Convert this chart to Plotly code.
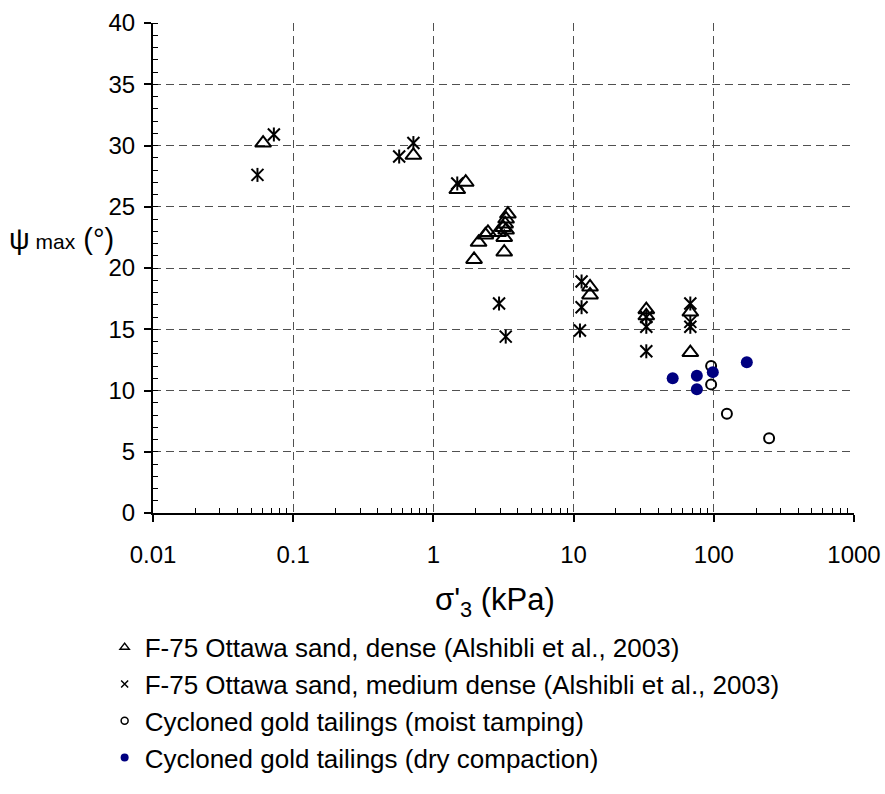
import plotly.graph_objects as go

# Maximum dilation angle vs. effective confining stress
dense_s3 = [0.061, 0.72, 1.48, 1.70, 3.40, 3.30, 3.25, 3.15, 3.30, 2.90, 2.45, 2.35,
            3.20, 2.10, 3.20, 1.95, 13.1, 13.1, 33.0, 33.0, 68.0, 68.0]
dense_psi = [30.2, 29.2, 26.4, 27.0, 24.4, 24.0, 23.6, 23.3, 23.1, 22.9, 22.9, 22.7,
             22.5, 22.1, 21.3, 20.7, 18.45, 17.8, 16.6, 16.1, 16.4, 13.1]

med_s3 = [0.0556, 0.0728, 0.57, 0.72, 1.48, 2.94, 3.28, 11.4, 11.4, 11.1,
          33.0, 33.0, 33.0, 68.0, 68.0, 68.0]
med_psi = [27.6, 30.9, 29.1, 30.2, 26.9, 17.1, 14.4, 18.9, 16.8, 14.9,
           16.0, 15.2, 13.2, 17.1, 15.6, 15.2]

moist_s3 = [95.7, 95.7, 124.0, 248.0]
moist_psi = [12.0, 10.5, 8.1, 6.1]

dry_s3 = [50.9, 75.7, 75.7, 98.4, 172.0]
dry_psi = [11.0, 11.2, 10.1, 11.5, 12.3]

x_tickvals = [0.01, 0.1, 1, 10, 100, 1000]
x_ticktext = ["0.01", "0.1", "1", "10", "100", "1000"]

names = [
    "F-75 Ottawa sand, dense (Alshibli et al., 2003)",
    "F-75 Ottawa sand, medium dense (Alshibli et al., 2003)",
    "Cycloned gold tailings (moist tamping)",
    "Cycloned gold tailings (dry compaction)",
]

FONT = "Arial, Liberation Sans, sans-serif"
NAVY = "#000080"

fig = go.Figure()

# data markers
fig.add_trace(go.Scatter(
    x=dense_s3, y=dense_psi, mode="markers", showlegend=False,
    marker=dict(symbol="triangle-up-open", size=14, color="black",
                line=dict(width=2, color="black"))))
fig.add_trace(go.Scatter(
    x=med_s3, y=med_psi, mode="markers", showlegend=False,
    marker=dict(symbol="x-thin-open", size=12, color="black",
                line=dict(width=2, color="black"))))
fig.add_trace(go.Scatter(
    x=med_s3, y=med_psi, mode="markers", showlegend=False,
    marker=dict(symbol="line-ns-open", size=10, color="black",
                line=dict(width=2, color="black"))))
fig.add_trace(go.Scatter(
    x=moist_s3, y=moist_psi, mode="markers", showlegend=False,
    marker=dict(symbol="circle-open", size=10, color="black",
                line=dict(width=2, color="black"))))
fig.add_trace(go.Scatter(
    x=dry_s3, y=dry_psi, mode="markers", showlegend=False,
    marker=dict(symbol="circle", size=12, color=NAVY,
                line=dict(width=0))))

# legend-only entries with small keys
legend_markers = [
    dict(symbol="triangle-up-open", size=8, color="black", line=dict(width=1.5, color="black")),
    dict(symbol="x-thin-open", size=7, color="black", line=dict(width=1.5, color="black")),
    dict(symbol="circle-open", size=7, color="black", line=dict(width=1.5, color="black")),
    dict(symbol="circle", size=8, color=NAVY, line=dict(width=0)),
]
for i, (nm, mk) in enumerate(zip(names, legend_markers)):
    fig.add_trace(go.Scatter(x=[None], y=[None], mode="markers", name=nm,
                             marker=mk, legendgroup=f"g{i}"))

grid_dash = "8px,5px"

fig.update_xaxes(
    type="log", range=[-2, 3], automargin=False,
    tickvals=x_tickvals, ticktext=x_ticktext,
    ticks="outside", ticklen=7, tickwidth=1.5, tickcolor="black",
    ticklabelstandoff=12,
    showline=True, linecolor="black", linewidth=2,
    showgrid=True, gridcolor="#505050", gridwidth=1.3, griddash=grid_dash,
    zeroline=False,
    tickfont=dict(family=FONT, size=24, color="black"),
    minor=dict(tickvals=[m * 10 ** e for e in range(-2, 3) for m in range(2, 10)],
               ticks="inside", ticklen=5, tickwidth=1.3, tickcolor="black",
               showgrid=False),
)
fig.update_yaxes(
    range=[0, 40], dtick=5, automargin=False,
    ticks="outside", ticklen=7, tickwidth=1.5, tickcolor="black",
    ticklabelstandoff=4,
    showline=True, linecolor="black", linewidth=2,
    showgrid=True, gridcolor="#505050", gridwidth=1.3, griddash=grid_dash,
    zeroline=False,
    tickfont=dict(family=FONT, size=24, color="black"),
    minor=dict(dtick=1, ticks="inside", ticklen=5, tickwidth=1.3,
               tickcolor="black", showgrid=False),
)

fig.add_annotation(
    text="σ'<sub>3</sub> (kPa)", xref="paper", yref="paper",
    x=0.488, y=-0.182, xanchor="center", yanchor="middle", showarrow=False,
    font=dict(family=FONT, size=31, color="black"))
fig.add_annotation(
    text="ψ<span style='font-size:21px'> max</span> (°)", xref="paper", yref="paper",
    x=-0.208, y=0.56, xanchor="left", yanchor="middle", showarrow=False,
    font=dict(family=FONT, size=29, color="black"))

fig.update_layout(
    width=885, height=794, autosize=False,
    margin=dict(l=153, r=31, t=23, b=281),
    paper_bgcolor="white", plot_bgcolor="white",
    font=dict(family=FONT, color="black"),
    legend=dict(x=-0.069, y=-0.226, xanchor="left", yanchor="top",
                font=dict(family=FONT, size=26, color="black"),
                tracegroupgap=0, bgcolor="rgba(0,0,0,0)"),
)

fig.write_html("out.html")
